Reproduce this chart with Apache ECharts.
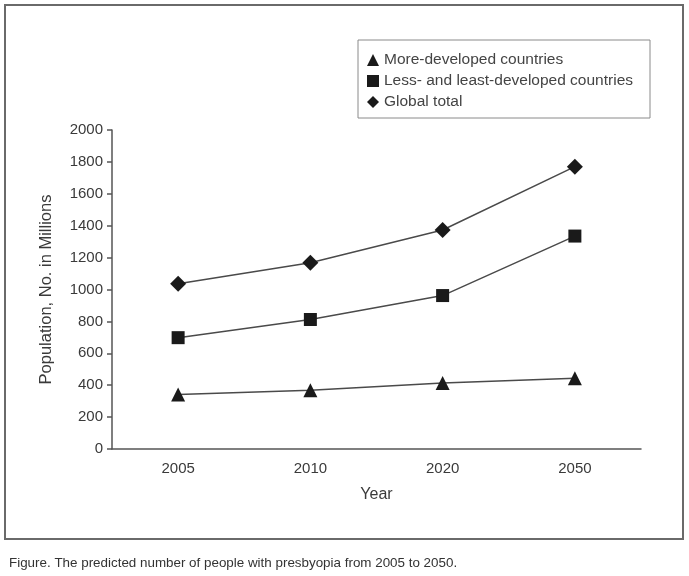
<!DOCTYPE html>
<html>
<head>
<meta charset="utf-8">
<script src="https://cdn.jsdelivr.net/npm/echarts@6/dist/echarts.min.js"></script>
<style>
  html, body { margin: 0; padding: 0; background: #fff; }
  #chart { width: 689px; height: 576px; }
</style>
</head>
<body>
<div id="chart"></div>
<script>
// data
var years = ['2005', '2010', '2020', '2050'];
var moreDeveloped = [342, 368, 414, 443];
var lessDeveloped = [698, 812, 962, 1335];
var globalTotal = [1036, 1168, 1373, 1770];
var yTicks = { min: 0, max: 2000, interval: 200 };

var font = '"Liberation Sans", Arial, sans-serif';
var ink = '#3a3a3a';

var myChart = echarts.init(document.getElementById('chart'));

var option = {
  animation: false,
  textStyle: { fontFamily: font },
  title: {
    text: 'Figure. The predicted number of people with presbyopia from 2005 to 2050.',
    left: 4,
    top: 552,
    textStyle: { fontFamily: font, fontSize: 13.4, fontWeight: 'normal', color: '#333' }
  },
  graphic: [{
    type: 'rect',
    shape: { x: 5, y: 5, width: 678, height: 534 },
    style: { fill: 'none', stroke: '#6a6a6a', lineWidth: 2 },
    silent: true
  }],
  legend: {
    orient: 'vertical',
    left: 358,
    top: 40,
    padding: [12, 17, 8, 9],
    borderColor: '#8a8a8a',
    borderWidth: 1,
    itemWidth: 12,
    itemHeight: 12,
    itemGap: 5,
    textStyle: { fontFamily: font, fontSize: 15.5, color: '#444' },
    data: [
      { name: 'More-developed countries', icon: 'triangle' },
      { name: 'Less- and least-developed countries', icon: 'rect' },
      { name: 'Global total', icon: 'diamond' }
    ]
  },
  grid: { left: 112, right: 48, top: 130, bottom: 127 },
  xAxis: {
    type: 'category',
    data: years,
    boundaryGap: true,
    name: 'Year',
    nameLocation: 'middle',
    nameGap: 38,
    nameTextStyle: { fontFamily: font, fontSize: 16, color: ink },
    axisLine: { lineStyle: { color: '#555', width: 1.5 } },
    axisTick: { alignWithLabel: true, length: 5, lineStyle: { color: '#555', width: 1.5 } },
    axisLabel: { fontFamily: font, fontSize: 15, color: ink, margin: 12 }
  },
  yAxis: {
    type: 'value',
    min: yTicks.min,
    max: yTicks.max,
    interval: yTicks.interval,
    name: 'Population, No. in Millions',
    nameLocation: 'middle',
    nameGap: 57,
    nameTextStyle: { fontFamily: font, fontSize: 16.5, color: ink },
    splitLine: { show: false },
    axisLine: { show: true, lineStyle: { color: '#555', width: 1.5 } },
    axisTick: { show: true, length: 5, lineStyle: { color: '#555', width: 1.5 } },
    axisLabel: { fontFamily: font, fontSize: 15, color: ink, margin: 9, formatter: function (v) { return String(v); } }
  },
  series: [
    {
      name: 'More-developed countries',
      type: 'line',
      data: moreDeveloped,
      symbol: 'triangle',
      symbolSize: 14,
      itemStyle: { color: '#1a1a1a' },
      lineStyle: { color: '#4a4a4a', width: 1.5 }
    },
    {
      name: 'Less- and least-developed countries',
      type: 'line',
      data: lessDeveloped,
      symbol: 'rect',
      symbolSize: 13,
      itemStyle: { color: '#1a1a1a' },
      lineStyle: { color: '#4a4a4a', width: 1.5 }
    },
    {
      name: 'Global total',
      type: 'line',
      data: globalTotal,
      symbol: 'diamond',
      symbolSize: 16,
      itemStyle: { color: '#1a1a1a' },
      lineStyle: { color: '#4a4a4a', width: 1.5 }
    }
  ]
};

myChart.setOption(option);
</script>
</body>
</html>
